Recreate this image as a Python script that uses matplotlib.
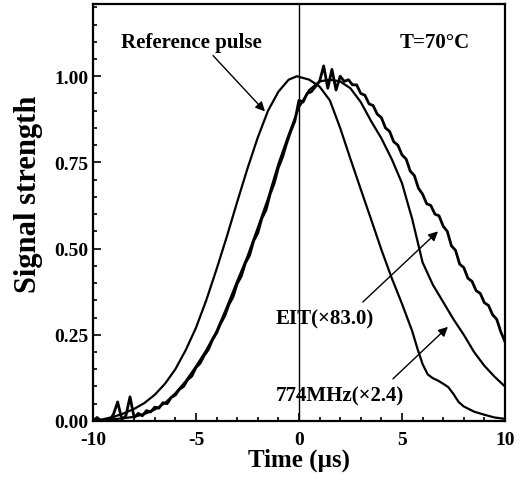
import matplotlib
matplotlib.use("Agg")
import matplotlib.pyplot as plt
from matplotlib.ticker import MultipleLocator

plt.rcParams['font.family'] = ['Liberation Serif', 'DejaVu Serif']
plt.rcParams['font.weight'] = 'bold'
plt.rcParams['axes.unicode_minus'] = False

# reference pulse
ref_t = [-10.0, -9.5, -9.0, -8.5, -8.0, -7.5, -7.0, -6.5, -6.0, -5.5, -5.0, -4.5, -4.0,
         -3.5, -3.0, -2.5, -2.0, -1.5, -1.0, -0.5, -0.1, 0.5, 1.0, 1.5, 2.0, 2.5, 3.0,
         3.5, 4.0, 4.5, 5.0, 5.5, 5.75, 6.0, 6.25, 6.5, 6.75, 7.0, 7.25, 7.5, 7.75,
         8.0, 8.5, 9.0, 9.5, 10.0]
ref_s = [0.0, 0.005, 0.012, 0.022, 0.035, 0.052, 0.076, 0.108, 0.15, 0.205, 0.27, 0.35,
         0.44, 0.535, 0.635, 0.732, 0.822, 0.9, 0.955, 0.99, 1.0, 0.99, 0.97, 0.93,
         0.85, 0.76, 0.672, 0.585, 0.497, 0.415, 0.34, 0.26, 0.21, 0.165, 0.135,
         0.124, 0.117, 0.108, 0.098, 0.078, 0.055, 0.042, 0.027, 0.018, 0.01, 0.006]

# 774 MHz detuned signal (x2.4)
mhz_t = [-10.0, -9.5, -9.0, -8.5, -8.0, -7.5, -7.0, -6.5, -6.0, -5.5, -5.0, -4.5, -4.0,
         -3.5, -3.0, -2.5, -2.0, -1.5, -1.0, -0.5, 0.0, 0.5, 1.0, 1.5, 2.0, 2.5, 3.0,
         3.5, 4.0, 4.5, 5.0, 5.5, 6.0, 6.5, 7.0, 7.5, 8.0, 8.5, 9.0, 9.5, 10.0]
mhz_s = [0.0, 0.002, 0.005, 0.008, 0.012, 0.02, 0.033, 0.052, 0.08, 0.115, 0.158, 0.205,
         0.26, 0.33, 0.405, 0.477, 0.56, 0.645, 0.745, 0.83, 0.91, 0.96, 0.985, 0.99,
         0.985, 0.965, 0.925, 0.87, 0.82, 0.76, 0.69, 0.585, 0.46, 0.395, 0.345, 0.295,
         0.25, 0.2, 0.16, 0.128, 0.1]

# EIT signal (x83.0), noisy trace, one value every 0.2 us
eit_t = [round(-10.0 + 0.2 * i, 1) for i in range(101)]
eit_s = [0.0, 0.01, 0.0, 0.005, 0.0, 0.02, 0.055, 0.005, 0.015, 0.07,
         0.01, 0.022, 0.015, 0.03, 0.026, 0.04, 0.037, 0.053, 0.05, 0.068,
         0.075, 0.092, 0.1, 0.12, 0.13, 0.155, 0.167, 0.19, 0.207, 0.235,
         0.255, 0.283, 0.305, 0.338, 0.36, 0.398, 0.42, 0.458, 0.48, 0.522,
         0.545, 0.588, 0.612, 0.658, 0.69, 0.735, 0.765, 0.805, 0.84, 0.87,
         0.93, 0.925, 0.95, 0.955, 0.97, 0.985, 1.03, 0.965, 1.02, 0.96,
         1.0, 0.985, 0.99, 0.975, 0.975, 0.95, 0.945, 0.92, 0.915, 0.89,
         0.88, 0.85, 0.84, 0.81, 0.8, 0.772, 0.76, 0.725, 0.712, 0.675,
         0.658, 0.63, 0.625, 0.6, 0.595, 0.565, 0.55, 0.508, 0.495, 0.455,
         0.445, 0.414, 0.405, 0.378, 0.37, 0.343, 0.335, 0.308, 0.295, 0.258, 0.23]

fig = plt.figure(figsize=(5.31, 4.85), dpi=100)
ax = fig.add_axes([0.175, 0.13, 0.776, 0.86])

ax.plot(ref_t, ref_s, color='black', lw=1.6)
ax.plot(mhz_t, mhz_s, color='black', lw=1.6)
ax.plot(eit_t, eit_s, color='black', lw=2.0)
ax.axvline(0, color='black', lw=1.0)

ax.set_xlim(-10, 10)
ax.set_ylim(0, 1.21)
ax.xaxis.set_major_locator(MultipleLocator(5))
ax.xaxis.set_minor_locator(MultipleLocator(1))
ax.yaxis.set_major_locator(MultipleLocator(0.25))
ax.yaxis.set_minor_locator(MultipleLocator(0.05))
ax.yaxis.set_major_formatter(plt.FormatStrFormatter('%.2f'))
ax.tick_params(which='both', direction='in', top=False, right=False, width=1.2,
               labelsize=14)
ax.tick_params(which='major', length=6)
ax.tick_params(which='minor', length=3)
ax.tick_params(axis='x', pad=7)
for sp in ax.spines.values():
    sp.set_linewidth(1.6)

ax.set_xlabel('Time (µs)', fontsize=18, fontweight='bold', labelpad=0)
ax.set_ylabel('Signal strength', fontsize=22, fontweight='bold')
ax.yaxis.set_label_coords(-0.12, 0.545)

ax.text(-8.64, 1.10, 'Reference pulse', fontsize=15, fontweight='bold', va='center')
ax.text(4.9, 1.10, 'T=70°C', fontsize=15, fontweight='bold', va='center')
ax.text(-1.12, 0.297, 'EIT(×83.0)', fontsize=15, fontweight='bold', va='center')
ax.text(-1.12, 0.073, '774MHz(×2.4)', fontsize=15, fontweight='bold', va='center')

arrow = dict(arrowstyle='-|>', color='black', lw=1.0, mutation_scale=14,
             shrinkA=0, shrinkB=0)
ax.annotate('', xy=(-1.65, 0.898), xytext=(-4.17, 1.06), arrowprops=arrow)
ax.annotate('', xy=(6.75, 0.55), xytext=(3.1, 0.345), arrowprops=arrow)
ax.annotate('', xy=(7.23, 0.273), xytext=(4.56, 0.122), arrowprops=arrow)

fig.savefig('out.png', dpi=100)
